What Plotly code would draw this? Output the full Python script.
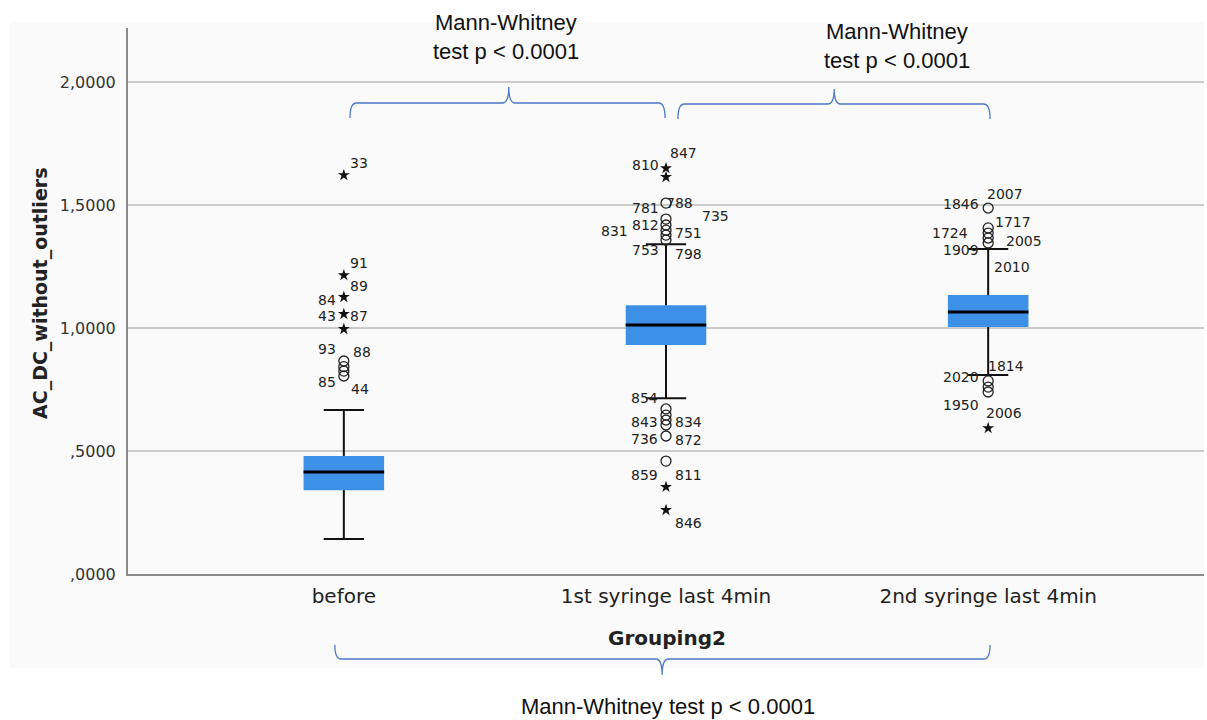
import plotly.graph_objects as go

# ---- data -------------------------------------------------------------
groups = ["before", "1st syringe last 4min", "2nd syringe last 4min"]

whisker_low = [0.142, 0.715, 0.809]
q1 = [0.341, 0.931, 1.004]
median = [0.415, 1.012, 1.065]
q3 = [0.480, 1.093, 1.134]
whisker_high = [0.667, 1.341, 1.321]

# outliers per group: values and marker kind ("o" = outlier, "*" = extreme)
before_out_vals = [1.622, 1.215, 1.126, 1.057, 0.996, 0.866, 0.843, 0.825, 0.805]
before_out_kind = ["*", "*", "*", "*", "*", "o", "o", "o", "o"]

syr1_out_vals = [1.650, 1.614, 1.508, 1.443, 1.419, 1.398, 1.378, 1.358,
                 0.671, 0.646, 0.626, 0.606, 0.561, 0.459, 0.354, 0.260]
syr1_out_kind = ["*", "*", "o", "o", "o", "o", "o", "o",
                 "o", "o", "o", "o", "o", "o", "*", "*"]

syr2_out_vals = [1.488, 1.407, 1.386, 1.366, 1.346, 0.785, 0.760, 0.740, 0.593]
syr2_out_kind = ["o", "o", "o", "o", "o", "o", "o", "o", "*"]

# case-number labels: (text, outlier index, side, x shift px, y shift px)
before_labels = [("33", 0, "r", 4, 12), ("91", 1, "r", 4, 12), ("89", 1, "r", 4, -11),
                 ("84", 2, "l", -6, -3), ("43", 3, "l", -6, -2), ("87", 3, "r", 4, -2),
                 ("93", 5, "l", -6, 12), ("88", 5, "r", 7, 9),
                 ("85", 8, "l", -6, -6), ("44", 8, "r", 5, -13)]
syr1_labels = [("810", 0, "l", -5, 3), ("847", 0, "r", 2, 15),
               ("781", 2, "l", -5, -5), ("788", 2, "r", -2, 0),
               ("735", 3, "r", 34, 3), ("812", 4, "l", -5, 0),
               ("831", 5, "l", -36, -1), ("751", 6, "r", 7, 2),
               ("753", 7, "l", -5, -10), ("798", 7, "r", 7, -14),
               ("854", 8, "l", -6, 11), ("843", 10, "l", -6, -2), ("834", 10, "r", 7, -2),
               ("736", 12, "l", -6, -3), ("872", 12, "r", 7, -4),
               ("859", 13, "l", -6, -14), ("811", 13, "r", 7, -14),
               ("846", 15, "r", 7, -13)]
syr2_labels = [("2007", 0, "r", -3, 14), ("1846", 0, "l", -7, 4),
               ("1717", 1, "r", 5, 6), ("1724", 2, "l", -18, 0),
               ("2005", 4, "r", 16, 2), ("1909", 4, "l", -7, -7),
               ("2010", 4, "r", 4, -24),
               ("1814", 5, "r", -2, 15), ("2020", 5, "l", -7, 4),
               ("1950", 7, "l", -7, -13), ("2006", 7, "r", -4, -21)]

y_tickvals = [0, 0.5, 1.0, 1.5, 2.0]
y_ticktext = [",0000", ",5000", "1,0000", "1,5000", "2,0000"]

test_text = "Mann-Whitney test p < 0.0001"

# ---- styling ----------------------------------------------------------
W, H = 1207, 720
M_L, M_R, M_T, M_B = 128, 3, 28, 146
BOX_W = 0.25
CAP_W = 0.125
BOX_COLOR = "#3c91e6"
LABEL_FONT = dict(family="DejaVu Sans", size=14, color="#222222")
BRACE_COLOR = "#4a78c8"

plot_w = W - M_L - M_R
plot_h = H - M_T - M_B


def px_x(px):
    return (px - M_L) / plot_w


def px_y(py):
    return (H - M_B - py) / plot_h


fig = go.Figure()

# boxes (interquartile range)
fig.add_trace(go.Bar(
    x=list(range(len(groups))),
    base=q1,
    y=[b - a for a, b in zip(q1, q3)],
    width=BOX_W,
    marker=dict(color=BOX_COLOR, line=dict(width=0)),
    hoverinfo="skip",
    showlegend=False,
))

# whiskers and caps
wx, wy = [], []
for i in range(len(groups)):
    wx += [i, i, None, i, i, None]
    wy += [q3[i], whisker_high[i], None, q1[i], whisker_low[i], None]
    for v in (whisker_high[i], whisker_low[i]):
        wx += [i - CAP_W / 2, i + CAP_W / 2, None]
        wy += [v, v, None]
fig.add_trace(go.Scatter(x=wx, y=wy, mode="lines",
                         line=dict(color="#111111", width=2),
                         hoverinfo="skip", showlegend=False))

# medians
mx, my = [], []
for i in range(len(groups)):
    mx += [i - BOX_W / 2, i + BOX_W / 2, None]
    my += [median[i], median[i], None]
fig.add_trace(go.Scatter(x=mx, y=my, mode="lines",
                         line=dict(color="#000000", width=3),
                         hoverinfo="skip", showlegend=False))

# outliers
outliers = [(before_out_vals, before_out_kind, before_labels),
            (syr1_out_vals, syr1_out_kind, syr1_labels),
            (syr2_out_vals, syr2_out_kind, syr2_labels)]
for gi, (vals, kinds, labels) in enumerate(outliers):
    circ = [v for v, k in zip(vals, kinds) if k == "o"]
    star = [v for v, k in zip(vals, kinds) if k == "*"]
    if circ:
        fig.add_trace(go.Scatter(
            x=[gi] * len(circ), y=circ, mode="markers",
            marker=dict(symbol="circle-open", size=10,
                        line=dict(width=1.3, color="#222222"), color="#222222"),
            hoverinfo="skip", showlegend=False))
    if star:
        fig.add_trace(go.Scatter(
            x=[gi] * len(star), y=star, mode="markers",
            marker=dict(symbol="star", size=9, color="#111111",
                        line=dict(width=0)),
            hoverinfo="skip", showlegend=False))
    for text, idx, side, dx, dy in labels:
        fig.add_annotation(
            x=gi, y=vals[idx], xref="x", yref="y", text=text,
            showarrow=False, font=LABEL_FONT,
            xanchor="left" if side == "r" else "right", yanchor="middle",
            xshift=dx, yshift=dy)


# curly braces marking the pairwise comparisons
def brace(x0, x1, xm, y_end, y_h, y_tip, r=0.02):
    return (f"M {x0},{y_end} Q {x0},{y_h} {x0 + r},{y_h} "
            f"L {xm - r},{y_h} Q {xm},{y_h} {xm},{y_tip} "
            f"Q {xm},{y_h} {xm + r},{y_h} "
            f"L {x1 - r},{y_h} Q {x1},{y_h} {x1},{y_end}")


braces = [
    (0.019, 0.997, 0.512, px_y(118), px_y(103), px_y(87)),
    (1.037, 2.006, 1.522, px_y(119), px_y(104), px_y(89)),
    (-0.028, 2.006, 0.988, px_y(645), px_y(659), px_y(675)),
]
for b in braces:
    fig.add_shape(type="path", path=brace(*b), xref="x", yref="paper",
                  line=dict(color=BRACE_COLOR, width=1.3))

# chart panel background
fig.add_shape(type="rect", xref="paper", yref="paper",
              x0=px_x(10), x1=px_x(1204), y0=px_y(668), y1=px_y(22),
              fillcolor="#fafafa", line=dict(width=0), layer="below")

# test annotations
TEST_FONT = dict(family="Liberation Sans", size=22, color="#111111")
first, second = test_text.split(" test ")
for cx, y1, y2 in [(506, 22, 52), (897, 32, 60)]:
    fig.add_annotation(x=px_x(cx), y=px_y(y1), xref="paper", yref="paper",
                       text=first, showarrow=False, font=TEST_FONT,
                       xanchor="center", yanchor="middle")
    fig.add_annotation(x=px_x(cx), y=px_y(y2), xref="paper", yref="paper",
                       text="test " + second, showarrow=False, font=TEST_FONT,
                       xanchor="center", yanchor="middle")
fig.add_annotation(x=px_x(668), y=px_y(706), xref="paper", yref="paper",
                   text=test_text, showarrow=False, font=TEST_FONT,
                   xanchor="center", yanchor="middle")

# axis titles
fig.add_annotation(x=px_x(40), y=px_y(294), xref="paper", yref="paper",
                   text="<b>AC_DC_without_outliers</b>", textangle=-90,
                   showarrow=False,
                   font=dict(family="DejaVu Sans", size=19, color="#222222"),
                   xanchor="center", yanchor="middle")
fig.add_annotation(x=px_x(667), y=px_y(638), xref="paper", yref="paper",
                   text="<b>Grouping2</b>", showarrow=False,
                   font=dict(family="DejaVu Sans", size=20, color="#222222"),
                   xanchor="center", yanchor="middle")

fig.update_layout(
    width=W, height=H,
    margin=dict(l=M_L, r=M_R, t=M_T, b=M_B, pad=0),
    paper_bgcolor="white",
    plot_bgcolor="rgba(0,0,0,0)",
    showlegend=False,
    xaxis=dict(range=[-0.67, 2.67], tickvals=list(range(len(groups))),
               ticktext=groups, showgrid=False, zeroline=False,
               showline=True, linecolor="#8a8a8a", linewidth=2,
               ticks="", ticklabelstandoff=3,
               tickfont=dict(family="DejaVu Sans", size=20, color="#222222"),
               fixedrange=True),
    yaxis=dict(range=[0, 2.22], tickvals=y_tickvals, ticktext=y_ticktext,
               showgrid=True, gridcolor="#cbcbcb", gridwidth=2,
               zeroline=False, showline=True, linecolor="#8a8a8a",
               linewidth=2, ticks="", ticklabelstandoff=7,
               tickfont=dict(family="DejaVu Sans", size=16, color="#333333"),
               fixedrange=True),
)

fig.write_html("out.html")
